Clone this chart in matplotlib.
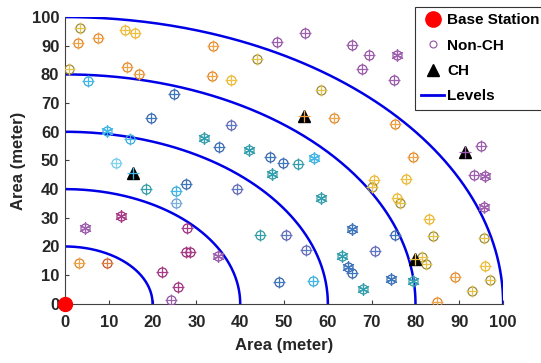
import numpy as np
import matplotlib
matplotlib.use('Agg')
import matplotlib.pyplot as plt
from matplotlib.lines import Line2D

# level radii (meter)
levels = [20, 40, 60, 80, 100]

# base station
bs_x, bs_y = 0, 0

# cluster heads: position and overlay colour
ch_x = [15.5, 54.6, 91.3, 79.9]
ch_y = [45.5, 65.6, 53.1, 15.6]
ch_col = ['cyan', 'orange', 'purple', 'yellow']

# non-CH nodes
node_x = [3.4, 3.0, 7.5, 13.7, 16.1, 33.9, 43.8, 1.0, 14.1, 17.0, 33.6, 38.0,
          5.3, 25.0, 19.6, 9.7, 14.8, 11.7, 18.4, 25.3, 27.6, 25.3,
          31.7, 35.2, 38.0, 42.1, 46.8, 49.8, 53.1, 56.8, 47.3, 58.4, 39.2,
          44.5, 50.5, 55.0, 48.9, 56.7, 65.5, 75.3, 63.2, 70.8, 64.5, 65.5,
          68.0, 74.4, 79.4,
          4.6, 12.7, 3.3, 9.5, 22.2, 25.7, 24.3, 27.8, 27.6, 28.5, 35.0,
          48.5, 54.7, 65.5, 69.5, 75.7, 67.9, 75.1, 95.0, 93.3, 95.9, 95.7,
          58.4, 61.5, 75.3, 79.5, 70.6, 70.0, 77.9, 75.7, 76.5, 83.1, 83.9,
          95.7, 81.6, 82.3, 89.0, 92.8, 95.9, 97.0, 84.9]
node_y = [96.3, 90.8, 92.8, 95.5, 94.5, 89.9, 85.3, 81.9, 82.5, 80.1, 79.4, 78.0,
          77.7, 73.1, 64.9, 60.3, 57.4, 49.0, 40.1, 39.3, 41.7, 35.3,
          57.9, 54.7, 62.3, 53.7, 51.2, 49.0, 48.8, 50.8, 45.3, 37.0, 40.1,
          24.0, 24.1, 18.9, 7.7, 8.1, 26.0, 24.0, 16.6, 18.5, 12.8, 10.7,
          5.1, 8.6, 7.8,
          26.4, 30.8, 14.4, 14.4, 11.0, 5.9, 1.5, 26.4, 18.2, 18.2, 16.8,
          91.3, 94.3, 90.2, 86.8, 86.8, 81.8, 78.0, 55.2, 44.9, 44.5, 33.8,
          74.4, 64.7, 62.6, 51.3, 43.3, 40.6, 43.6, 36.9, 35.1, 29.5, 23.5,
          22.9, 16.3, 13.8, 9.5, 4.3, 13.2, 8.4, 0.5]
node_col = ['olive', 'orange', 'orange', 'yellow', 'yellow', 'orange', 'olive', 'olive',
            'orange', 'orange', 'orange', 'yellow',
            'cyan', 'blue', 'blue', 'cyan', 'cyan', 'lcyan', 'teal', 'cyan', 'blue', 'lblue',
            'teal', 'blue', 'slate', 'teal', 'blue', 'blue', 'teal', 'cyan', 'teal', 'teal',
            'slate', 'teal', 'slate', 'slate', 'blue', 'cyan', 'blue', 'blue', 'teal',
            'slate', 'blue', 'blue', 'teal', 'blue', 'teal',
            'purple', 'magenta', 'orange', 'red', 'magenta', 'magenta', 'purple', 'magenta',
            'magenta', 'magenta', 'purple',
            'purple', 'purple', 'purple', 'purple', 'purple', 'purple', 'purple', 'purple',
            'purple', 'purple', 'purple',
            'olive', 'orange', 'orange', 'orange', 'yellow', 'olive', 'yellow', 'yellow',
            'olive', 'yellow', 'olive', 'olive', 'olive', 'olive', 'orange', 'olive',
            'yellow', 'olive', 'orange']
node_star = [0] * 15 + [1] + [0] * 6 + [1, 0, 0, 1, 0, 0, 0, 1, 1, 1, 0,
             0, 0, 0, 0, 0, 1, 0, 1, 0, 1, 0, 1, 1, 1,
             1, 1, 0, 0, 0, 0, 0, 0, 0, 0, 1,
             0, 0, 0, 0, 1, 0, 0, 0, 0, 1, 1] + [0] * 19

# (circle colour, plus colour)
pal = {
    'orange': ('#e0852a', '#f0a548'),
    'yellow': ('#e8b530', '#f0c040'),
    'olive': ('#9a8a3a', '#e6c246'),
    'cyan': ('#3aa8d8', '#40b8ea'),
    'lcyan': ('#6cc8e8', '#80d4f0'),
    'lblue': ('#6a9ed0', '#80b0e0'),
    'blue': ('#3c64a8', '#3c78c0'),
    'slate': ('#6a62b0', '#5a7ac8'),
    'teal': ('#3a9aa0', '#30a0b0'),
    'purple': ('#9050a0', '#a060b0'),
    'magenta': ('#9a2e78', '#a83c88'),
    'red': ('#c8502a', '#e08040'),
}

fig = plt.figure(figsize=(5.41, 3.63), dpi=100)
ax = fig.add_axes([0.120, 0.163, 0.810, 0.790])

th = np.linspace(0, np.pi / 2, 200)
for r in levels:
    ax.plot(r * np.cos(th), r * np.sin(th), color='#0000e6', lw=1.8, zorder=2)

for i in range(len(node_x)):
    c1, c2 = pal[node_col[i]]
    ax.plot(node_x[i], node_y[i], 'o', mfc='none', mec=c1, ms=6.5, mew=0.9, zorder=3)
    if node_star[i]:
        ax.plot(node_x[i], node_y[i], marker=(6, 2, 0), color=c2, ms=9, mew=0.9, zorder=4)
    else:
        ax.plot(node_x[i], node_y[i], '+', color=c2, ms=8, mew=0.9, zorder=4)

for i in range(len(ch_x)):
    ax.plot(ch_x[i], ch_y[i], '^', color='black', ms=8, zorder=5)
    ax.plot(ch_x[i], ch_y[i], '+', color=pal[ch_col[i]][1], ms=8, mew=0.9, zorder=6)

ax.plot(bs_x, bs_y, 'o', color='red', ms=10, clip_on=False, zorder=7)

ax.set_xlim(0, 100)
ax.set_ylim(0, 100)
ax.set_xticks(range(0, 101, 10))
ax.set_yticks(range(0, 101, 10))
for s in ['top', 'right']:
    ax.spines[s].set_visible(False)
for s in ['left', 'bottom']:
    ax.spines[s].set_color('#404040')
    ax.spines[s].set_linewidth(0.8)
ax.tick_params(direction='in', length=3, width=0.8, color='#404040')
ax.tick_params(axis='x', pad=8)
ax.tick_params(axis='y', pad=4)
for lab in ax.get_xticklabels() + ax.get_yticklabels():
    lab.set_fontweight('bold')
    lab.set_fontsize(12)
    lab.set_fontfamily('Liberation Sans')
    lab.set_color('#262626')
ax.set_xlabel('Area (meter)', fontsize=12, fontweight='bold', family='Liberation Sans',
              color='#262626', labelpad=6)
ax.set_ylabel('Area (meter)', fontsize=12, fontweight='bold', family='Liberation Sans',
              color='#262626')

handles = [
    Line2D([], [], marker='o', color='red', ls='none', ms=11),
    Line2D([], [], marker='o', mfc='none', mec='#9050a0', ls='none', ms=5, mew=0.8),
    Line2D([], [], marker='^', color='black', ls='none', ms=8),
    Line2D([], [], color='#0000e6', lw=2),
]
leg = fig.legend(handles, ['Base Station', 'Non-CH', 'CH', 'Levels'],
                 loc='upper left', bbox_to_anchor=(415 / 541, 1 - 7 / 363),
                 prop={'family': 'Liberation Sans', 'weight': 'bold', 'size': 11},
                 frameon=True, fancybox=False, edgecolor='#333333', framealpha=1,
                 handlelength=1.5, handletextpad=0.2, borderpad=0.4, labelspacing=0.75,
                 borderaxespad=0)
leg.get_frame().set_linewidth(0.8)

fig.savefig('out.png', dpi=100)
